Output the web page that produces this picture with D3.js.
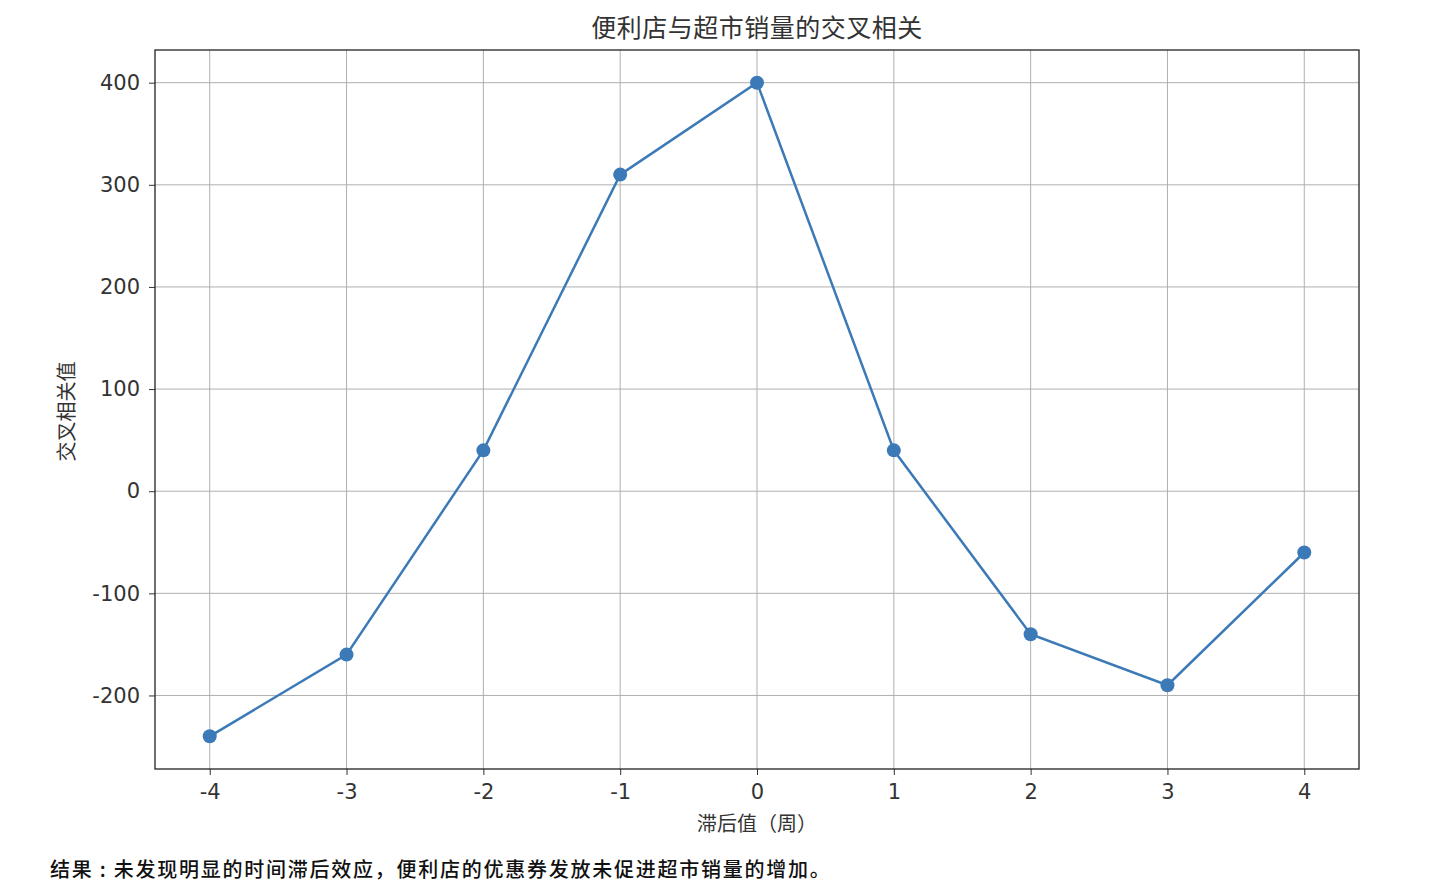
<!DOCTYPE html>
<html>
<head>
<meta charset="utf-8">
<style>
    body { margin: 0; background: #fff; }
    svg { font-family: "Noto Sans CJK SC", "Noto Sans", sans-serif; }
    .grid line { stroke: #b0b0b0; stroke-width: 1; }
    .axis text { font-family: "DejaVu Sans", sans-serif; font-size: 21px; fill: #333; }
    .axis .domain { display: none; }
    .axis .tick line { stroke: #333; }
</style>
</head>
<body>
<svg width="1453" height="894"></svg>
<script src="https://d3js.org/d3.v7.min.js"></script>
<script>
// lag (weeks) and cross-correlation values
const lags = [-4, -3, -2, -1, 0, 1, 2, 3, 4];
const xcorr = [-240, -160, 40, 310, 400, 40, -140, -190, -60];
const yTicks = [-200, -100, 0, 100, 200, 300, 400];

const titleText = "便利店与超市销量的交叉相关";
const xLabel = "滞后值（周）";
const yLabel = "交叉相关值";
const note = "结果 : 未发现明显的时间滞后效应，便利店的优惠券发放未促进超市销量的增加。";

const svg = d3.select("svg");
const margin = { top: 50, right: 94, bottom: 125, left: 155 };
const width = 1453, height = 894;

const x = d3.scaleLinear()
    .domain([-4.4, 4.4])
    .range([margin.left, width - margin.right]);

const y = d3.scaleLinear()
    .domain([-272, 432])
    .range([height - margin.bottom, margin.top]);

// plain hyphen minus like the reference
const fmt = d => String(d);

// grid
const grid = svg.append("g").attr("class", "grid");
grid.selectAll(".gx").data(lags).join("line")
    .attr("x1", d => x(d)).attr("x2", d => x(d))
    .attr("y1", y.range()[1]).attr("y2", y.range()[0]);
grid.selectAll(".gy").data(yTicks).join("line")
    .attr("y1", d => y(d)).attr("y2", d => y(d))
    .attr("x1", x.range()[0]).attr("x2", x.range()[1]);

// axes
svg.append("g")
    .attr("class", "x axis")
    .attr("transform", `translate(0,${y.range()[0]})`)
    .call(d3.axisBottom(x).tickValues(lags).tickSize(6).tickPadding(9).tickFormat(fmt));

svg.append("g")
    .attr("class", "y axis")
    .attr("transform", `translate(${x.range()[0]},0)`)
    .call(d3.axisLeft(y).tickValues(yTicks).tickSize(6).tickPadding(9).tickFormat(fmt));

// frame
svg.append("rect")
    .attr("x", x.range()[0]).attr("y", y.range()[1])
    .attr("width", x.range()[1] - x.range()[0])
    .attr("height", y.range()[0] - y.range()[1])
    .attr("fill", "none").attr("stroke", "#222").attr("stroke-width", 1.3);

// line + markers
const pts = lags.map((l, i) => ({ lag: l, v: xcorr[i] }));
const line = d3.line().x(d => x(d.lag)).y(d => y(d.v));

svg.append("path")
    .datum(pts)
    .attr("fill", "none")
    .attr("stroke", "#3c7ab7")
    .attr("stroke-width", 2.5)
    .attr("d", line);

svg.append("g")
    .selectAll("circle")
    .data(pts)
    .join("circle")
    .attr("cx", d => x(d.lag))
    .attr("cy", d => y(d.v))
    .attr("r", 7)
    .attr("fill", "#3c7ab7");

// texts
svg.append("text")
    .attr("x", (x.range()[0] + x.range()[1]) / 2)
    .attr("y", 37)
    .attr("text-anchor", "middle")
    .attr("font-size", 25)
    .attr("letter-spacing", 0.5)
    .attr("fill", "#333")
    .text(titleText);

svg.append("text")
    .attr("x", (x.range()[0] + x.range()[1]) / 2)
    .attr("y", 831)
    .attr("text-anchor", "middle")
    .attr("font-size", 20)
    .attr("fill", "#333")
    .text(xLabel);

svg.append("text")
    .attr("transform", `translate(74,${(y.range()[0] + y.range()[1]) / 2 + 2}) rotate(-90)`)
    .attr("text-anchor", "middle")
    .attr("font-size", 20)
    .attr("fill", "#333")
    .text(yLabel);

svg.append("text")
    .attr("x", 50)
    .attr("y", 877)
    .attr("font-size", 20)
    .attr("letter-spacing", 1.75)
    .attr("font-weight", 500)
    .attr("fill", "#111")
    .text(note);
</script>
</body>
</html>
